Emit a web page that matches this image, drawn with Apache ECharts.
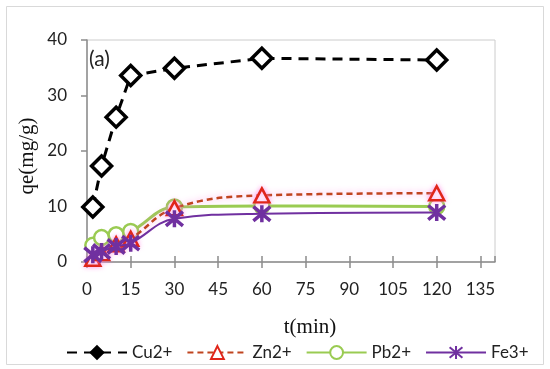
<!DOCTYPE html>
<html>
<head>
<meta charset="utf-8">
<script src="https://cdn.jsdelivr.net/npm/echarts@6/dist/echarts.min.js"></script>
<style>html,body{margin:0;padding:0;background:#fff}#c{width:550px;height:369px}</style>
</head>
<body>
<div id="c"></div>
<script>
var times = [2, 5, 10, 15, 30, 60, 120];
var cu = [9.9, 17.3, 26.1, 33.6, 34.9, 36.7, 36.4];
var zn = [0.6, 1.6, 3.2, 4.2, 9.7, 12.0, 12.4];
var pb = [3.0, 4.4, 4.9, 5.5, 9.9, 10.1, 10.0];
var fe = [1.3, 1.9, 2.8, 3.4, 7.8, 8.7, 8.9];
var xTicks = {min: 0, max: 140, interval: 15};
var yTicks = {min: 0, max: 40, interval: 10};
var seriesNames = ['Cu2+', 'Zn2+', 'Pb2+', 'Fe3+'];

function pairs(v) { return times.map(function (t, i) { return [t, v[i]]; }); }
var star = 'path://M0,0L10,10M10,0L0,10M5,-1L5,11';
var font = 'Lato';

var chart = echarts.init(document.getElementById('c'), null, {renderer: 'canvas'});
chart.setOption({
  animation: false,
  backgroundColor: '#fff',
  title: {text: '(a)', left: 89, top: 49, textStyle: {fontSize: 21, fontFamily: font, fontWeight: 'normal', color: '#222'}, padding: 0},
  grid: {left: 87, top: 40, right: 55, bottom: 107, show: true, borderColor: '#cccccc', borderWidth: 1, backgroundColor: 'transparent'},
  xAxis: [{
    type: 'value', min: xTicks.min, max: xTicks.max, interval: xTicks.interval,
    axisLine: {lineStyle: {color: '#8c8c8c', width: 1.5}},
    axisTick: {show: true, inside: false, length: 6, lineStyle: {color: '#8c8c8c', width: 1.5}},
    axisLabel: {showMaxLabel: false, color: '#222', fontFamily: font, fontSize: 17, margin: 19},
    splitLine: {show: false}
  }, {
    type: 'value', min: xTicks.min, max: xTicks.max, interval: xTicks.interval, position: 'bottom',
    axisLine: {show: false},
    axisTick: {show: true, inside: true, length: 6, lineStyle: {color: '#8c8c8c', width: 1.5}},
    axisLabel: {show: false}, splitLine: {show: false}
  }],
  yAxis: {
    type: 'value', min: yTicks.min, max: yTicks.max, interval: yTicks.interval,
    axisLine: {show: true, lineStyle: {color: '#8c8c8c', width: 1.5}},
    axisTick: {show: true, inside: false, length: 6, lineStyle: {color: '#8c8c8c', width: 1.5}},
    axisLabel: {color: '#222', fontFamily: font, fontSize: 17, margin: 20},
    splitLine: {show: false}
  },
  legend: {
    left: 61, top: 339, itemWidth: 60, itemHeight: 16, itemGap: 14,
    textStyle: {fontFamily: font, fontSize: 17, color: '#222'},
    data: [
      {name: seriesNames[0], itemStyle: {color: '#000'}},
      {name: seriesNames[1]},
      {name: seriesNames[2]},
      {name: seriesNames[3]}
    ]
  },
  graphic: [
    {type: 'rect', shape: {x: 6.5, y: 6.5, width: 537, height: 358}, style: {fill: 'none', stroke: '#d9d9d9', lineWidth: 1}, silent: true, z: -1},
    {type: 'text', x: 310, y: 327, style: {text: 't(min)', fontSize: 21, fontFamily: 'Liberation Serif', fill: '#111', align: 'center', verticalAlign: 'middle'}},
    {type: 'text', x: 27, y: 156, rotation: Math.PI / 2, style: {text: 'qe(mg/g)', fontSize: 21, fontFamily: 'Liberation Serif', fill: '#111', align: 'center', verticalAlign: 'middle'}}
  ],
  series: [
    {name: 'Cu2+', type: 'line', data: pairs(cu), smooth: false,
      symbol: 'diamond', symbolSize: [20, 20],
      lineStyle: {color: '#000', width: 3, type: [10, 7]},
      itemStyle: {color: '#fff', borderColor: '#000', borderWidth: 3.5}, z: 5},
    {name: 'Zn2+', type: 'line', data: pairs(zn), smooth: 0.4,
      symbol: 'triangle', symbolSize: [15, 14],
      lineStyle: {color: '#c0441f', width: 2.5, type: [6, 4], shadowColor: 'rgba(255,140,230,0.9)', shadowBlur: 6},
      itemStyle: {color: '#fff', borderColor: '#e0261a', borderWidth: 2.5, shadowColor: 'rgba(255,140,230,0.8)', shadowBlur: 5}, z: 3},
    {name: 'Pb2+', type: 'line', data: pairs(pb), smooth: 0.4,
      symbol: 'circle', symbolSize: 15,
      lineStyle: {color: '#9acb52', width: 3},
      itemStyle: {color: '#fff', borderColor: '#9acb52', borderWidth: 2.5}, z: 2},
    {name: 'Fe3+', type: 'line', data: pairs(fe), smooth: 0.4,
      symbol: star, symbolSize: 17,
      lineStyle: {color: '#7030a0', width: 2},
      itemStyle: {color: '#7030a0', borderColor: '#7030a0', borderWidth: 3.5}, z: 4}
  ]
});
</script>
</body>
</html>
